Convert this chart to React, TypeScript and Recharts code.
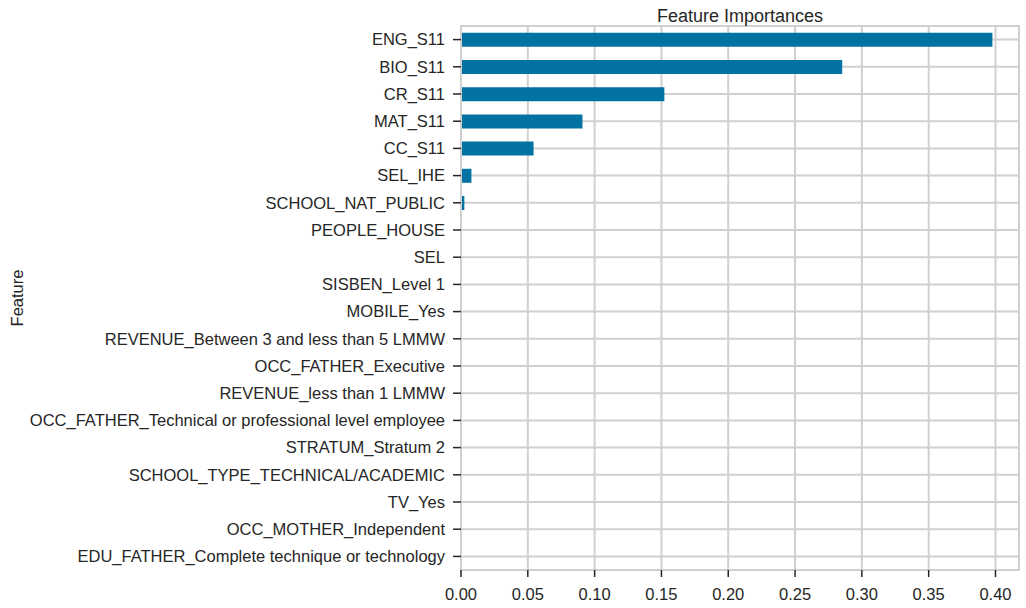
import { Bar, BarChart, CartesianGrid, ReferenceArea, XAxis, YAxis } from 'recharts';

const features = [
  'ENG_S11',
  'BIO_S11',
  'CR_S11',
  'MAT_S11',
  'CC_S11',
  'SEL_IHE',
  'SCHOOL_NAT_PUBLIC',
  'PEOPLE_HOUSE',
  'SEL',
  'SISBEN_Level 1',
  'MOBILE_Yes',
  'REVENUE_Between 3 and less than 5 LMMW',
  'OCC_FATHER_Executive',
  'REVENUE_less than 1 LMMW',
  'OCC_FATHER_Technical or professional level employee',
  'STRATUM_Stratum 2',
  'SCHOOL_TYPE_TECHNICAL/ACADEMIC',
  'TV_Yes',
  'OCC_MOTHER_Independent',
  'EDU_FATHER_Complete technique or technology',
];

const importances = [
  0.3977, 0.2853, 0.1522, 0.0909, 0.0543, 0.0078, 0.0025, 0, 0, 0,
  0, 0, 0, 0, 0, 0, 0, 0, 0, 0,
];

const xTicks = [0, 0.05, 0.1, 0.15, 0.2, 0.25, 0.3, 0.35, 0.4];
const X_MAX = 0.4176;

const data = features.map((feature, i) => ({ feature, importance: importances[i] }));

const FONT = '"Liberation Sans", Arial, sans-serif';
const TEXT = '#262626';
const GRID = '#d0d0d0';

export default function App() {
  return (
    <div style={{ position: 'absolute', left: 0, top: 0, width: 1026, height: 608, background: '#fff', fontFamily: FONT }}>
      <BarChart
        width={1026}
        height={608}
        data={data}
        layout="vertical"
        margin={{ top: 26, right: 7, bottom: 0, left: 0 }}
        barCategoryGap="25%"
      >
        <CartesianGrid stroke={GRID} strokeWidth={2} />
        <XAxis
          type="number"
          domain={[0, X_MAX]}
          ticks={xTicks}
          tickFormatter={v => Number(v).toFixed(2)}
          height={38}
          tick={{ fontSize: 16.5, fill: TEXT, fontFamily: FONT }}
          tickLine={{ stroke: TEXT, strokeWidth: 1.5 }}
          tickSize={7}
          tickMargin={11}
          axisLine={{ stroke: GRID, strokeWidth: 2 }}
        />
        <YAxis
          type="category"
          dataKey="feature"
          width={461}
          interval={0}
          tick={{ fontSize: 16.5, fill: TEXT, fontFamily: FONT }}
          tickLine={{ stroke: TEXT, strokeWidth: 1.5 }}
          tickSize={8}
          tickMargin={8}
          axisLine={{ stroke: GRID, strokeWidth: 2 }}
        />
        <Bar dataKey="importance" fill="#0272A3" isAnimationActive={false} />
        <ReferenceArea x1={0} x2={X_MAX} fill="none" stroke={GRID} strokeWidth={2} />
      </BarChart>
      <svg width={1026} height={608} style={{ position: 'absolute', left: 0, top: 0, pointerEvents: 'none' }}>
        <text x={740} y={22} textAnchor="middle" fontSize={18} fill={TEXT} fontFamily={FONT}>
          Feature Importances
        </text>
        <text x={23} y={298} textAnchor="middle" fontSize={16.5} fill={TEXT} fontFamily={FONT} transform="rotate(-90 23 298)">
          Feature
        </text>
      </svg>
    </div>
  );
}
